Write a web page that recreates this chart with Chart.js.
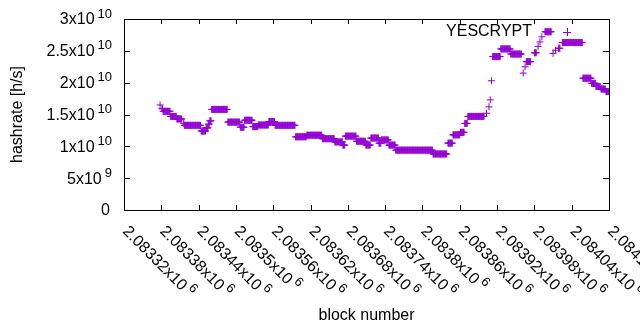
<!DOCTYPE html>
<html>
<head>
<meta charset="utf-8">
<script src="https://cdn.jsdelivr.net/npm/chart.js@4/dist/chart.umd.min.js"></script>
<style>html,body{margin:0;padding:0;background:#fff}</style>
</head>
<body>
<canvas id="c" width="640" height="330"></canvas>
<script>
const firstBlock = 2083320;
const lastBlock = 2084100;
// runs of equal estimated hashrate: blocks [from, to) as offsets, rate in 1e10 h/s
const runFrom = [58, 61, 63, 75, 85, 96, 97, 124, 132, 136, 138, 141, 167, 187, 194, 207, 216, 233, 243, 276,
  294, 319, 339, 352, 356, 374, 389, 397, 410, 414, 426, 437, 497, 521, 529, 541, 548, 553, 583, 587,
  589, 591, 593, 606, 622, 642, 645, 647, 660, 666, 669, 672, 677, 690, 694, 699, 705, 738, 752, 759, 767, 775];
const runTo = [59, 63, 75, 85, 94, 97, 124, 132, 136, 138, 141, 167, 187, 194, 207, 216, 233, 243, 276, 294,
  319, 339, 352, 356, 374, 389, 397, 410, 414, 426, 437, 497, 520, 529, 541, 548, 553, 580, 584, 588,
  590, 592, 606, 622, 640, 643, 646, 655, 664, 667, 670, 673, 688, 691, 695, 702, 738, 752, 759, 767, 775, 781];
const runRate = [1.65, 1.59, 1.55, 1.47, 1.43, 1.36, 1.33, 1.24, 1.29, 1.35, 1.40, 1.58, 1.38, 1.30, 1.41, 1.31, 1.335, 1.39, 1.33, 1.15,
  1.175, 1.12, 1.07, 1.02, 1.16, 1.08, 1.02, 1.13, 1.05, 1.10, 1.02, 0.94, 0.88, 1.05, 1.18, 1.22, 1.36, 1.47, 1.52, 1.62,
  1.73, 2.03, 2.41, 2.53, 2.45, 2.15, 2.25, 2.33, 2.47, 2.57, 2.64, 2.72, 2.80, 2.46, 2.51, 2.54, 2.63, 2.07, 1.99, 1.94, 1.90, 1.86];

const xTicks = [2083320, 2083380, 2083440, 2083500, 2083560, 2083620, 2083680, 2083740, 2083800, 2083860, 2083920, 2083980, 2084040, 2084100];
const xTickLabels = ['2.08332', '2.08338', '2.08344', '2.0835', '2.08356', '2.08362', '2.08368', '2.08374', '2.0838', '2.08386', '2.08392', '2.08398', '2.08404', '2.0841'];
const yTicks = [0, 5e9, 1e10, 1.5e10, 2e10, 2.5e10, 3e10];
const yTickMantissa = ['0', '5x10', '1x10', '1.5x10', '2x10', '2.5x10', '3x10'];
const yTickExp = ['', '9', '10', '10', '10', '10', '10'];
const seriesName = 'YESCRYPT';
const purple = '#9400d3';

const points = [];
runFrom.forEach((from, i) => {
  for (let b = from; b < runTo[i]; b++) {
    points.push({x: firstBlock + b, y: runRate[i] * 1e10});
  }
});

const FONT = '"Liberation Sans", Arial, sans-serif';

const gnuplotFrame = {
  id: 'gnuplotFrame',
  beforeDraw(chart) {
    const ctx = chart.ctx;
    ctx.save();
    ctx.fillStyle = '#fff';
    ctx.fillRect(0, 0, chart.width, chart.height);
    ctx.restore();
  },
  afterDraw(chart) {
    const {ctx, chartArea: a, scales: {x, y}} = chart;
    ctx.save();
    ctx.strokeStyle = '#000';
    ctx.lineWidth = 1;
    ctx.strokeRect(a.left + 0.5, a.top + 0.5, a.right - a.left, a.bottom - a.top);

    ctx.beginPath();
    yTicks.forEach(v => {
      const py = Math.round(y.getPixelForValue(v)) + 0.5;
      ctx.moveTo(a.left, py); ctx.lineTo(a.left + 6, py);
      ctx.moveTo(a.right, py); ctx.lineTo(a.right - 6, py);
    });
    xTicks.forEach(v => {
      const px = Math.round(x.getPixelForValue(v)) + 0.5;
      ctx.moveTo(px, a.bottom); ctx.lineTo(px, a.bottom - 5);
      ctx.moveTo(px, a.top); ctx.lineTo(px, a.top + 5);
    });
    ctx.stroke();

    ctx.fillStyle = '#000';
    ctx.textBaseline = 'middle';
    ctx.textAlign = 'left';
    const rightEdge = 112;
    yTicks.forEach((v, i) => {
      const py = y.getPixelForValue(v) + 1;
      ctx.font = '16px ' + FONT;
      const mW = ctx.measureText(yTickMantissa[i]).width;
      if (yTickExp[i]) {
        ctx.font = '13px ' + FONT;
        const eW = ctx.measureText(yTickExp[i]).width;
        ctx.fillText(yTickExp[i], rightEdge - eW, py - 6);
        ctx.font = '16px ' + FONT;
        ctx.fillText(yTickMantissa[i], rightEdge - eW - 3 - mW, py);
      } else {
        ctx.fillText(yTickMantissa[i], rightEdge - 2 - mW, py);
      }
    });

    xTicks.forEach((v, i) => {
      const px = x.getPixelForValue(v);
      ctx.save();
      ctx.translate(px + 1, 229);
      ctx.rotate(Math.PI / 4);
      ctx.font = '16px ' + FONT;
      const label = xTickLabels[i] + 'x10';
      const mW = ctx.measureText(label).width;
      ctx.fillText(label, 0, 0);
      ctx.font = '13px ' + FONT;
      ctx.fillText('6', mW + 3, -6);
      ctx.restore();
    });

    ctx.font = '16px ' + FONT;
    ctx.textAlign = 'center';
    ctx.fillText('block number', (a.left + a.right) / 2, 316);
    ctx.save();
    ctx.translate(18, (a.top + a.bottom) / 2);
    ctx.rotate(-Math.PI / 2);
    ctx.fillText('hashrate [h/s]', 0, 0);
    ctx.restore();

    // key
    ctx.textAlign = 'right';
    ctx.fillText(seriesName, 532, 32);
    ctx.strokeStyle = purple;
    ctx.beginPath();
    ctx.moveTo(563, 32.5); ctx.lineTo(571, 32.5);
    ctx.moveTo(567.5, 28); ctx.lineTo(567.5, 36);
    ctx.stroke();
    ctx.restore();
  }
};

new Chart(document.getElementById('c').getContext('2d'), {
  type: 'scatter',
  data: {
    datasets: [{
      label: seriesName,
      data: points,
      pointStyle: 'cross',
      pointRadius: 3.5,
      pointBorderWidth: 1,
      borderColor: purple,
      backgroundColor: purple,
      showLine: false
    }]
  },
  options: {
    responsive: false,
    animation: false,
    devicePixelRatio: 1,
    layout: {padding: {left: 124, right: 31, top: 19, bottom: 120}},
    plugins: {legend: {display: false}, tooltip: {enabled: false}},
    scales: {
      x: {type: 'linear', min: firstBlock, max: lastBlock, display: false},
      y: {min: 0, max: 3e10, display: false}
    }
  },
  plugins: [gnuplotFrame]
});
</script>
</body>
</html>
